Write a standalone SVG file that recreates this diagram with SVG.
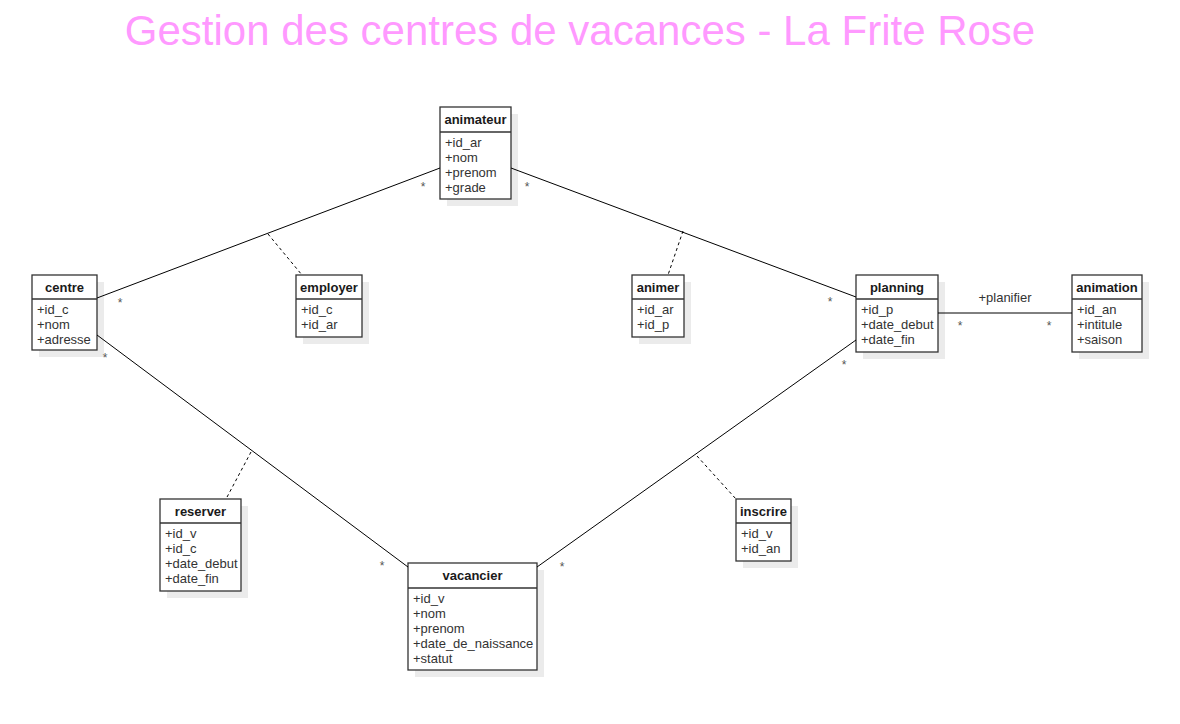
<svg xmlns="http://www.w3.org/2000/svg" width="1180" height="724" viewBox="0 0 1180 724">
<defs>
<style>
.shadow{fill:#ebebeb;stroke:none}
.box{fill:#fff;stroke:#333;stroke-width:1.3}
.div{stroke:#333;stroke-width:1.3}
.hdr{font-family:"Liberation Sans",Arial,sans-serif;font-size:13px;font-weight:bold;fill:#1a1a1a;text-anchor:middle}
.attr{font-family:"Liberation Sans",Arial,sans-serif;font-size:13px;fill:#333}
.line{stroke:#000;stroke-width:1;fill:none}
.dash{stroke:#000;stroke-width:1;fill:none;stroke-dasharray:3,3}
.mult{font-family:"Liberation Sans",Arial,sans-serif;font-size:12px;fill:#555;text-anchor:middle}
.lbl{font-family:"Liberation Sans",Arial,sans-serif;font-size:13px;fill:#333;text-anchor:middle}
</style>
</defs>
<rect width="1180" height="724" fill="#fff"/>
<text x="580" y="45" font-family="'Liberation Sans',Arial,sans-serif" font-size="42" fill="#ff99ff" text-anchor="middle">Gestion des centres de vacances - La Frite Rose</text>

<g id="animateur">
<rect class="shadow" x="447" y="114" width="71" height="92"/>
<rect class="box" x="440" y="107" width="71" height="92"/>
<line class="div" x1="440" y1="132" x2="511" y2="132"/>
<text class="hdr" x="475.5" y="124">animateur</text>
<text class="attr" x="445" y="147">+id_ar</text>
<text class="attr" x="445" y="162">+nom</text>
<text class="attr" x="445" y="177">+prenom</text>
<text class="attr" x="445" y="192">+grade</text>
</g>

<g id="centre">
<rect class="shadow" x="39" y="282" width="65" height="75"/>
<rect class="box" x="32" y="275" width="65" height="75"/>
<line class="div" x1="32" y1="299" x2="97" y2="299"/>
<text class="hdr" x="64.5" y="292">centre</text>
<text class="attr" x="37" y="314">+id_c</text>
<text class="attr" x="37" y="329">+nom</text>
<text class="attr" x="37" y="344">+adresse</text>
</g>

<g id="employer">
<rect class="shadow" x="303" y="282" width="66" height="62"/>
<rect class="box" x="296" y="275" width="66" height="62"/>
<line class="div" x1="296" y1="299" x2="362" y2="299"/>
<text class="hdr" x="329" y="292">employer</text>
<text class="attr" x="301" y="314">+id_c</text>
<text class="attr" x="301" y="329">+id_ar</text>
</g>

<g id="animer">
<rect class="shadow" x="639" y="282" width="52" height="62"/>
<rect class="box" x="632" y="275" width="52" height="62"/>
<line class="div" x1="632" y1="299" x2="684" y2="299"/>
<text class="hdr" x="658" y="292">animer</text>
<text class="attr" x="637" y="314">+id_ar</text>
<text class="attr" x="637" y="329">+id_p</text>
</g>

<g id="planning">
<rect class="shadow" x="863" y="282" width="82" height="77"/>
<rect class="box" x="856" y="275" width="82" height="77"/>
<line class="div" x1="856" y1="299" x2="938" y2="299"/>
<text class="hdr" x="897" y="292">planning</text>
<text class="attr" x="861" y="314">+id_p</text>
<text class="attr" x="861" y="329">+date_debut</text>
<text class="attr" x="861" y="344">+date_fin</text>
</g>

<g id="animation">
<rect class="shadow" x="1079" y="282" width="70" height="77"/>
<rect class="box" x="1072" y="275" width="70" height="77"/>
<line class="div" x1="1072" y1="299" x2="1142" y2="299"/>
<text class="hdr" x="1107" y="292">animation</text>
<text class="attr" x="1077" y="314">+id_an</text>
<text class="attr" x="1077" y="329">+intitule</text>
<text class="attr" x="1077" y="344">+saison</text>
</g>

<g id="reserver">
<rect class="shadow" x="167" y="506" width="81" height="92"/>
<rect class="box" x="160" y="499" width="81" height="92"/>
<line class="div" x1="160" y1="523" x2="241" y2="523"/>
<text class="hdr" x="200.5" y="516">reserver</text>
<text class="attr" x="165" y="538">+id_v</text>
<text class="attr" x="165" y="553">+id_c</text>
<text class="attr" x="165" y="568">+date_debut</text>
<text class="attr" x="165" y="583">+date_fin</text>
</g>

<g id="vacancier">
<rect class="shadow" x="415" y="570" width="129" height="107"/>
<rect class="box" x="408" y="563" width="129" height="107"/>
<line class="div" x1="408" y1="588" x2="537" y2="588"/>
<text class="hdr" x="472.5" y="580">vacancier</text>
<text class="attr" x="413" y="603">+id_v</text>
<text class="attr" x="413" y="618">+nom</text>
<text class="attr" x="413" y="633">+prenom</text>
<text class="attr" x="413" y="648">+date_de_naissance</text>
<text class="attr" x="413" y="663">+statut</text>
</g>

<g id="inscrire">
<rect class="shadow" x="743" y="506" width="55" height="62"/>
<rect class="box" x="736" y="499" width="55" height="62"/>
<line class="div" x1="736" y1="523" x2="791" y2="523"/>
<text class="hdr" x="763.5" y="516">inscrire</text>
<text class="attr" x="741" y="538">+id_v</text>
<text class="attr" x="741" y="553">+id_an</text>
</g>

<g id="connectors">
<line class="line" x1="97" y1="298" x2="440" y2="168"/>
<line class="line" x1="511" y1="168" x2="856" y2="297"/>
<line class="line" x1="97" y1="335" x2="408" y2="567"/>
<line class="line" x1="856" y1="340" x2="537" y2="567"/>
<line class="line" x1="938" y1="313" x2="1072" y2="313"/>
<line class="dash" x1="268" y1="234" x2="302" y2="275"/>
<line class="dash" x1="683" y1="231" x2="668" y2="275"/>
<line class="dash" x1="251" y1="452" x2="226" y2="499"/>
<line class="dash" x1="697" y1="456" x2="736" y2="499"/>
<text class="mult" x="423" y="191">*</text>
<text class="mult" x="527" y="191">*</text>
<text class="mult" x="120" y="307">*</text>
<text class="mult" x="105" y="362">*</text>
<text class="mult" x="830" y="306">*</text>
<text class="mult" x="844" y="369">*</text>
<text class="mult" x="960" y="330">*</text>
<text class="mult" x="1049" y="330">*</text>
<text class="mult" x="382" y="570">*</text>
<text class="mult" x="562" y="571">*</text>
<text class="lbl" x="1005" y="302">+planifier</text>
</g>
</svg>
